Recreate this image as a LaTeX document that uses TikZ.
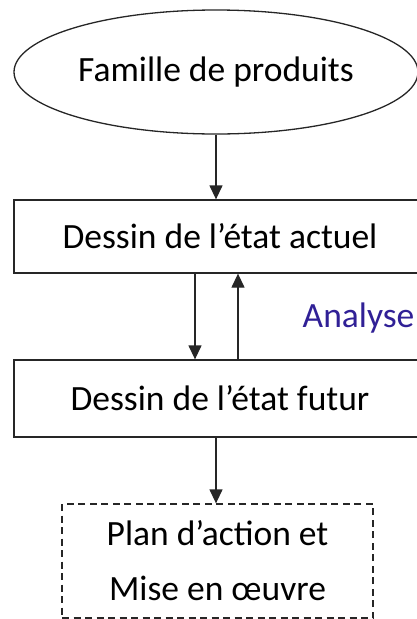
\documentclass[tikz,border=0pt]{standalone}
\usepackage{fontspec}
\setmainfont{Carlito}
\usetikzlibrary{shapes.geometric, arrows.meta, calc}

\definecolor{analysecol}{RGB}{48,32,150}

\begin{document}
\begin{tikzpicture}[
		x=1pt, y=-1pt,
		font=\fontsize{35.5}{55}\selectfont,
		line width=1.3pt,
		famille/.style={draw=black!85, ellipse, minimum width=404pt, minimum height=124pt, inner sep=0pt},
		etape/.style={draw=black!85, rectangle, minimum width=412pt, inner sep=0pt},
		plan/.style={draw=black!85, dashed, dash pattern=on 7pt off 4.5pt, rectangle, minimum width=311pt, minimum height=114pt, align=center, inner sep=0pt},
		arr/.style={-{Triangle[width=13pt, length=14pt]}, draw=black!85}
		]
		
		\useasboundingbox (0,0) rectangle (417,619);
		\clip (0,0) rectangle (417,619);
		
		% boxes of the flow
		\node[famille] (fam) at (216,72) {Famille de produits};
		\node[etape, minimum height=73pt] (actuel) at (220,236.5) {Dessin de l’état actuel};
		\node[etape, minimum height=77pt] (futur) at (220,398.5) {Dessin de l’état futur};
		\node[plan] (action) at (217.5,561) {Plan d’action et\\Mise en œuvre};
		
		\node[analysecol, anchor=east, inner sep=0pt] (analyse) at (415,318) {Analyse};
		
		% connections
		\draw[arr] (fam.south) -- (fam.south |- actuel.north);
		\draw[arr] ([xshift=-25pt]actuel.south) -- ([xshift=-25pt]futur.north);
		\draw[arr] ([xshift=18pt]futur.north) -- ([xshift=18pt]actuel.south);
		\draw[arr] (fam.south |- futur.south) -- (fam.south |- action.north);
		
	\end{tikzpicture}
\end{document}
